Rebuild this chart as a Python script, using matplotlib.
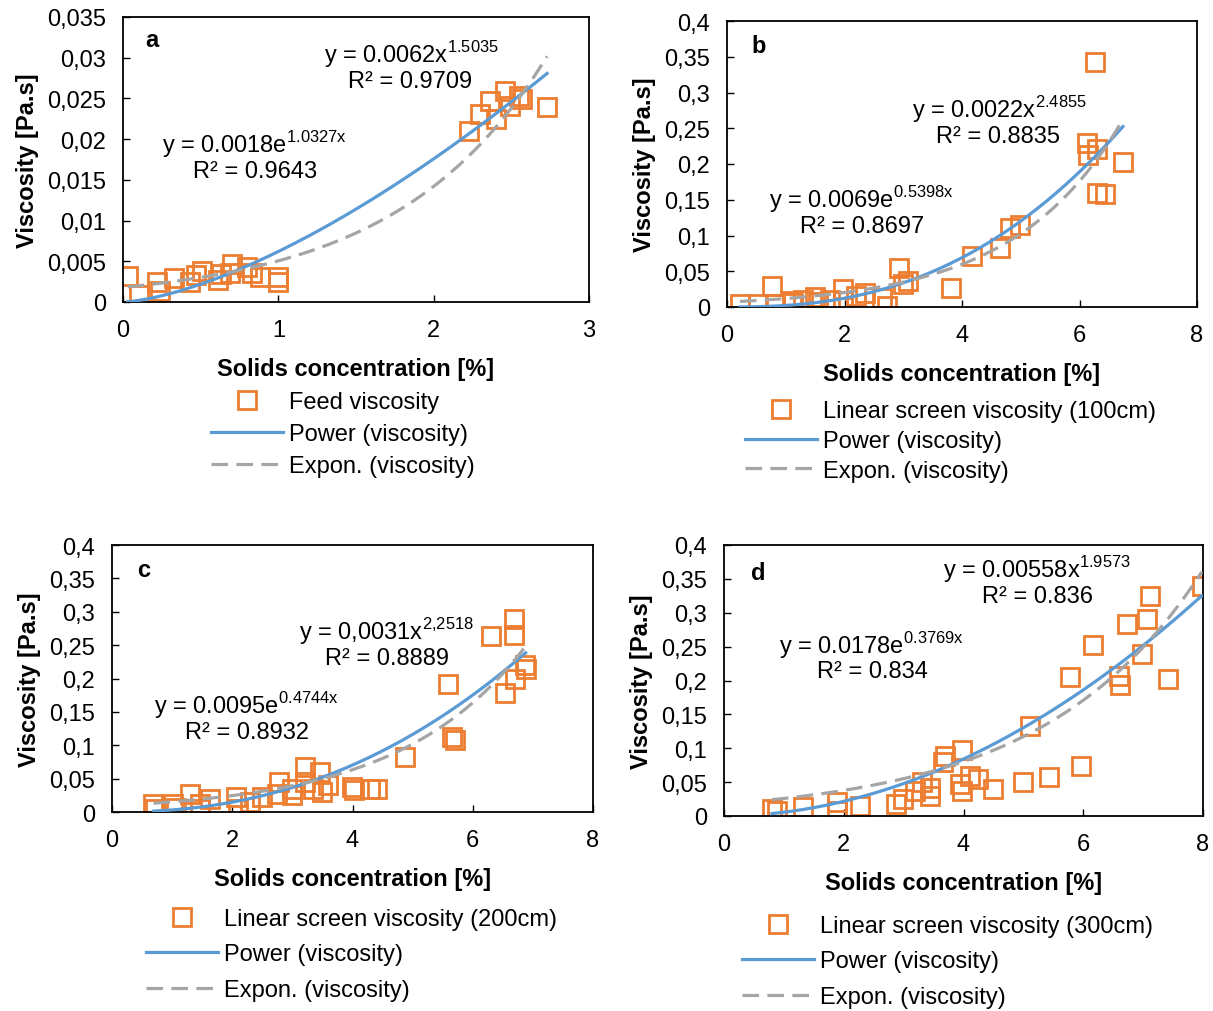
import numpy as np
import matplotlib.pyplot as plt

plt.rcParams['font.family'] = ['Liberation Sans', 'DejaVu Sans']
plt.rcParams['xtick.direction'] = 'in'
plt.rcParams['ytick.direction'] = 'in'
plt.rcParams['font.size'] = 17

ORANGE = '#ED7D31'
BLUE = '#5B9BD5'
GREY = '#A5A5A5'

# a - feed viscosity
xa = [0.03, 0.10, 0.22, 0.24, 0.33, 0.43, 0.47, 0.51, 0.61, 0.63, 0.69, 0.70,
      0.80, 0.83, 0.88, 1.00, 1.00,
      2.23, 2.30, 2.36, 2.40, 2.46, 2.49, 2.55, 2.57, 2.73]
ya = [0.0032, 0.0008, 0.0025, 0.0013, 0.0030, 0.0024, 0.0033, 0.0038, 0.0027,
      0.0034, 0.0036, 0.0047, 0.0043, 0.0036, 0.0031, 0.0031, 0.0024,
      0.0210, 0.0231, 0.0247, 0.0225, 0.0259, 0.0241, 0.0253, 0.0249, 0.0239]

# b - linear screen 100cm
xb = [0.22, 0.53, 0.76, 0.82, 1.10, 1.12, 1.30, 1.50, 1.55, 1.75, 1.98, 1.98,
      2.20, 2.35, 2.63, 2.72, 2.92, 3.00, 3.08, 3.82, 4.17, 4.65, 4.82, 4.99,
      6.12, 6.15, 6.29, 6.26, 6.29, 6.43, 6.74]
yb = [0.004, 0.004, 0.030, 0.004, 0.009, 0.005, 0.010, 0.014, 0.007, 0.010,
      0.025, 0.009, 0.016, 0.020, 0.012, 0.002, 0.055, 0.032, 0.037, 0.026,
      0.072, 0.083, 0.111, 0.115, 0.230, 0.212, 0.221, 0.342, 0.160, 0.158,
      0.203]

# c - linear screen 200cm
xc = [0.69, 0.72, 1.02, 1.06, 1.30, 1.46, 1.46, 1.63, 2.07, 2.10, 2.30, 2.49,
      2.74, 2.77, 2.99, 2.99, 3.21, 3.21, 3.35, 3.46, 3.49, 3.60, 3.99, 4.02,
      4.29, 4.40, 4.87, 5.59, 5.65, 5.70, 6.30, 6.68, 6.68, 6.87, 6.88, 6.70,
      6.54]
yc = [0.012, 0.005, 0.012, 0.006, 0.027, 0.012, 0.004, 0.019, 0.022, 0.005,
      0.015, 0.022, 0.027, 0.045, 0.035, 0.025, 0.067, 0.045, 0.035, 0.060,
      0.030, 0.040, 0.037, 0.033, 0.034, 0.035, 0.082, 0.192, 0.113, 0.108,
      0.263, 0.289, 0.265, 0.220, 0.214, 0.200, 0.178]

# d - linear screen 300cm
xd = [0.80, 0.88, 1.32, 1.88, 1.88, 2.27, 2.88, 2.99, 3.19, 3.30, 3.44, 3.44,
      3.66, 3.69, 3.97, 3.94, 3.97, 4.11, 4.25, 4.50, 5.00, 5.11, 5.43, 5.97,
      5.78, 6.17, 6.59, 6.61, 6.73, 6.98, 7.06, 7.12, 7.42, 7.98]
yd = [0.010, 0.008, 0.013, 0.020, 0.008, 0.015, 0.018, 0.025, 0.037, 0.050,
      0.042, 0.030, 0.079, 0.089, 0.098, 0.047, 0.037, 0.059, 0.055, 0.040,
      0.050, 0.133, 0.058, 0.074, 0.205, 0.252, 0.207, 0.193, 0.283, 0.239,
      0.291, 0.325, 0.202, 0.340]

# trendline coefficients (as printed on the chart)
pow_fit = {'a': (0.0062, 1.5035), 'b': (0.0022, 2.4855),
           'c': (0.0031, 2.2518), 'd': (0.00558, 1.9573)}
exp_fit = {'a': (0.0018, 1.0327), 'b': (0.0069, 0.5398),
           'c': (0.0095, 0.4744), 'd': (0.0178, 0.3769)}

pow_txt = {'a': 'y = 0.0062x$^{\\mathregular{1.5035}}$',
           'b': 'y = 0.0022x$^{\\mathregular{2.4855}}$',
           'c': 'y = 0,0031x$^{\\mathregular{2{,}2518}}$',
           'd': 'y = 0.00558x$^{\\mathregular{1.9573}}$'}
exp_txt = {'a': 'y = 0.0018e$^{\\mathregular{1.0327x}}$',
           'b': 'y = 0.0069e$^{\\mathregular{0.5398x}}$',
           'c': 'y = 0.0095e$^{\\mathregular{0.4744x}}$',
           'd': 'y = 0.0178e$^{\\mathregular{0.3769x}}$'}
r2_pow = {'a': '0.9709', 'b': '0.8835', 'c': '0.8889', 'd': '0.836'}
r2_exp = {'a': '0.9643', 'b': '0.8697', 'c': '0.8932', 'd': '0.834'}

names = {'a': 'Feed viscosity', 'b': 'Linear screen viscosity (100cm)',
         'c': 'Linear screen viscosity (200cm)', 'd': 'Linear screen viscosity (300cm)'}

W, H = 1213, 1012
fig = plt.figure(figsize=(W / 100, H / 100), dpi=100)


def box(l, t, r, b):
    return [l / W, 1 - b / H, (r - l) / W, (b - t) / H]


def fx(px):
    return px / W


def fy(py):
    return 1 - py / H


def comma(v, pos):
    return ('%g' % v).replace('.', ',')


panels = {
    'a': dict(rect=box(123, 18, 589, 303), x=xa, y=ya, xmax=3, xstep=1, ymax=0.035, ystep=0.005,
              peq=(411, 55), pr2=(410, 82), eeq=(255, 145), er2=(255, 172), leg=(211, 392), lsp=0.42,
              lab=(0.062, 0.898)),
    'b': dict(rect=box(727, 22, 1197, 308), x=xb, y=yb, xmax=8, xstep=2, ymax=0.4, ystep=0.05,
              peq=(999, 110), pr2=(998, 137), eeq=(862, 200), er2=(862, 227), leg=(745, 401), lsp=0.33,
              lab=(0.068, 0.892)),
    'c': dict(rect=box(112, 546, 593, 813), x=xc, y=yc, xmax=8, xstep=2, ymax=0.4, ystep=0.05,
              peq=(386, 632), pr2=(387, 659), eeq=(247, 706), er2=(247, 733), leg=(146, 909), lsp=0.57,
              lab=(0.0665, 0.884)),
    'd': dict(rect=box(724, 546, 1203, 817), x=xd, y=yd, xmax=8, xstep=2, ymax=0.4, ystep=0.05,
              peq=(1037, 570), pr2=(1037, 597), eeq=(872, 646), er2=(872, 672), leg=(742, 916), lsp=0.57,
              lab=(0.071, 0.875)),
}

for key, p in panels.items():
    ax = fig.add_axes(p['rect'])
    x = np.array(p['x'])
    y = np.array(p['y'])
    ax.plot(x, y, ls='none', marker='s', ms=13.5, mfc='none', mec=ORANGE, mew=2,
            label=names[key], zorder=2)
    xs = np.linspace(x.min(), x.max(), 200)
    a, b = pow_fit[key]
    ax.plot(xs, a * xs ** b, color=BLUE, lw=2.3, label='Power (viscosity)', zorder=3)
    a, b = exp_fit[key]
    ax.plot(xs, a * np.exp(b * xs), color=GREY, lw=2.3, ls=(0, (5.2, 2.6)),
            label='Expon. (viscosity)', zorder=3)

    ax.set_xlim(0, p['xmax'])
    ax.set_ylim(0, p['ymax'])
    ax.set_xticks(np.arange(0, p['xmax'] + 0.001, p['xstep']))
    ax.set_yticks(np.arange(0, p['ymax'] + 1e-9, p['ystep']))
    ax.yaxis.set_major_formatter(plt.FuncFormatter(comma))
    ax.tick_params(length=5, width=1, labelsize=17)
    ax.tick_params(axis='x', pad=12)
    ax.tick_params(axis='y', pad=12)
    for s in ax.spines.values():
        s.set_linewidth(1.3)
    ax.set_xlabel('Solids concentration [%]', fontsize=17, fontweight='bold', labelpad=12)
    ax.set_ylabel('Viscosity [Pa.s]', fontsize=17, fontweight='bold', labelpad=6)
    ax.text(p['lab'][0], p['lab'][1], key, transform=ax.transAxes, fontsize=17,
            fontweight='bold', va='baseline', ha='center')

    fig.text(fx(p['peq'][0]), fy(p['peq'][1]), pow_txt[key], ha='center', va='center', fontsize=17)
    fig.text(fx(p['pr2'][0]), fy(p['pr2'][1]), 'R² = ' + r2_pow[key], ha='center', va='center', fontsize=17)
    fig.text(fx(p['eeq'][0]), fy(p['eeq'][1]), exp_txt[key], ha='center', va='center', fontsize=17)
    fig.text(fx(p['er2'][0]), fy(p['er2'][1]), 'R² = ' + r2_exp[key], ha='center', va='center', fontsize=17)

    ax.legend(loc='upper left', bbox_to_anchor=(fx(p['leg'][0]), fy(p['leg'][1])),
              bbox_transform=fig.transFigure, frameon=False, fontsize=17, numpoints=1,
              handlelength=3.05, handletextpad=0.25, labelspacing=p['lsp'],
              borderpad=0, borderaxespad=0)

fig.savefig('out.png', dpi=100)
